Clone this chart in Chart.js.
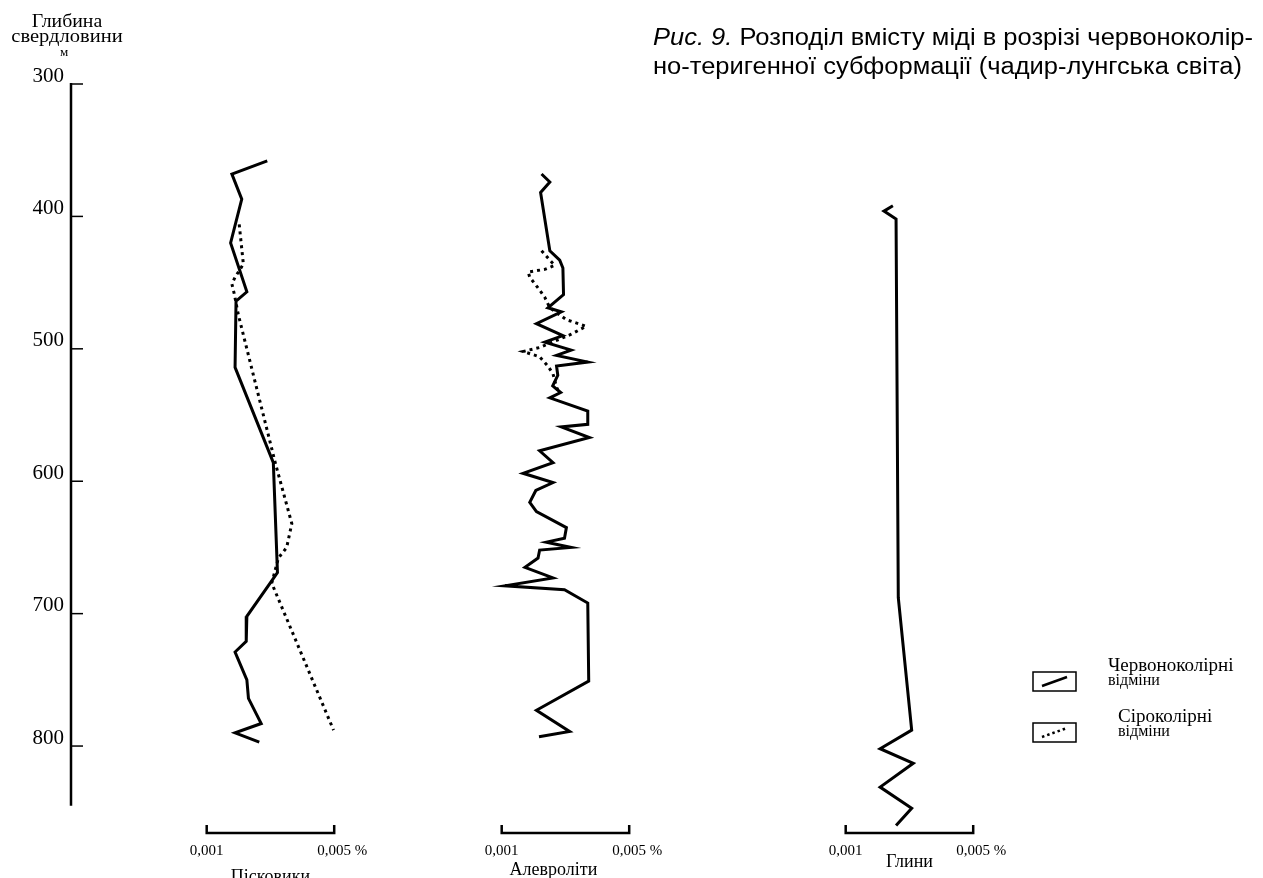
<!DOCTYPE html>
<html>
<head>
<meta charset="utf-8">
<script src="https://cdn.jsdelivr.net/npm/chart.js@4.4.1/dist/chart.umd.min.js"></script>
<style>
  body { margin: 0; background: #fff; }
  canvas { display: block; }
</style>
</head>
<body>
<canvas id="copperChart" width="1263" height="878"></canvas>
<script>
// depth ticks (m) and the short horizontal scale under each column (% Cu)
const depthTicks = [300, 400, 500, 600, 700, 800];
const axisEnd = 845;
const scaleValues = [0.001, 0.005];
const scaleLabels = ['0,001', '0,005 %'];
const panelNames = ['Пісковики', 'Алевроліти', 'Глини'];
const legendNames = [['Червоноколірні', 'відміни'], ['Сіроколірні', 'відміни']];

// [Cu %, depth m]
const sandRed = [[0.00290, 358], [0.00179, 368], [0.00210, 387], [0.00175, 420], [0.00226, 457],
  [0.00192, 464], [0.00189, 514], [0.00309, 586], [0.00322, 669], [0.00299, 677], [0.00226, 702],
  [0.00224, 721], [0.00189, 729], [0.00226, 750], [0.00231, 764], [0.00271, 783], [0.00189, 790],
  [0.00265, 797]];
const sandGrey = [[0.00202, 406], [0.00215, 436], [0.00189, 446], [0.00179, 451], [0.00187, 459],
  [0.00199, 474], [0.00315, 586], [0.00367, 632], [0.00351, 650], [0.00325, 658], [0.00304, 677],
  [0.00498, 788]];
const siltRed = [[0.00225, 368], [0.00251, 374], [0.00222, 382], [0.00251, 426], [0.00282, 433],
  [0.00292, 439], [0.00294, 459], [0.00245, 469], [0.00287, 472], [0.00209, 481], [0.00292, 490],
  [0.00235, 495], [0.00318, 501], [0.00272, 505], [0.00370, 510], [0.00272, 513], [0.00276, 520],
  [0.00260, 528], [0.00285, 533], [0.00251, 537], [0.00370, 547], [0.00370, 557], [0.00287, 559],
  [0.00375, 567], [0.00219, 577], [0.00261, 586], [0.00167, 594], [0.00261, 601], [0.00207, 607],
  [0.00188, 616], [0.00209, 623], [0.00303, 635], [0.00297, 643], [0.00240, 646], [0.00318, 650],
  [0.00219, 652], [0.00214, 658], [0.00173, 665], [0.00261, 673], [0.00110, 679], [0.00297, 682],
  [0.00370, 692], [0.00373, 751], [0.00209, 773], [0.00313, 789], [0.00217, 793]];
const siltGrey = [[0.00225, 426], [0.00266, 437], [0.00235, 440], [0.00183, 442], [0.00188, 446],
  [0.00214, 454], [0.00235, 461], [0.00251, 469], [0.00303, 478], [0.00365, 483], [0.00318, 489],
  [0.00219, 499], [0.00167, 502], [0.00219, 506], [0.00245, 513], [0.00261, 519], [0.00272, 529],
  [0.00282, 534]];
const clayRed = [[0.00248, 392], [0.00220, 396], [0.00258, 402], [0.00265, 688], [0.00307, 788],
  [0.00208, 802], [0.00312, 813], [0.00208, 831], [0.00307, 847], [0.00258, 860]];

// layout (pixels)
const plotLeft = 71, plotRight = 1253;
const panelLeft = [206.7, 501.7, 845.7];
const panelWidth = 127.5;
const serif = '"Liberation Serif", "Times New Roman", serif';
const sans = '"Liberation Sans", Arial, sans-serif';

function xScale(i) {
    const k = (scaleValues[1] - scaleValues[0]) / panelWidth;
    return {
        type: 'linear',
        display: false,
        min: scaleValues[0] - (panelLeft[i] - plotLeft) * k,
        max: scaleValues[1] + (plotRight - panelLeft[i] - panelWidth) * k
    };
}

function series(points, axis, dotted) {
    return {
        data: points.map(p => ({ x: p[0], y: p[1] })),
        xAxisID: axis,
        showLine: true,
        borderColor: '#000',
        borderWidth: 3,
        borderDash: dotted ? [3, 4] : [],
        borderJoinStyle: 'miter',
        pointRadius: 0,
        tension: 0,
        fill: false
    };
}

// text squeezed or stretched horizontally
function wideText(ctx, text, x, y, sx) {
    ctx.save();
    ctx.translate(x, y);
    ctx.scale(sx, 1);
    ctx.fillText(text, 0, 0);
    ctx.restore();
}

const decor = {
    id: 'decor',
    afterDraw(chart) {
        const ctx = chart.ctx;
        const y = chart.scales.y;
        const left = chart.chartArea.left;
        ctx.save();
        ctx.fillStyle = '#000';
        ctx.strokeStyle = '#000';

        // depth axis with ticks pointing right
        ctx.lineWidth = 2.5;
        ctx.beginPath();
        ctx.moveTo(left, y.getPixelForValue(depthTicks[0]) - 1);
        ctx.lineTo(left, y.getPixelForValue(axisEnd));
        ctx.stroke();
        ctx.lineWidth = 1.5;
        depthTicks.forEach(v => {
            const py = y.getPixelForValue(v);
            ctx.beginPath();
            ctx.moveTo(left, py);
            ctx.lineTo(left + 12, py);
            ctx.stroke();
        });

        // axis heading
        ctx.textAlign = 'center';
        ctx.textBaseline = 'middle';
        ctx.font = '18px ' + serif;
        wideText(ctx, 'Глибина', 67, 22, 1.1);
        wideText(ctx, 'свердловини', 67, 37, 1.14);
        ctx.font = '13px ' + serif;
        ctx.fillText('м', 64, 53);

        // scale bars under the columns
        const nameY = [877, 870, 862];
        panelNames.forEach((name, i) => {
            const sc = chart.scales['x' + (i + 1)];
            const x0 = sc.getPixelForValue(scaleValues[0]);
            const x1 = sc.getPixelForValue(scaleValues[1]);
            const yb = 833;
            ctx.lineWidth = 2.5;
            ctx.beginPath();
            ctx.moveTo(x0, yb - 8);
            ctx.lineTo(x0, yb);
            ctx.lineTo(x1, yb);
            ctx.lineTo(x1, yb - 8);
            ctx.stroke();
            ctx.font = '15px ' + serif;
            ctx.textAlign = 'center';
            ctx.fillText(scaleLabels[0], x0, 851);
            const w = ctx.measureText('0,005').width;
            ctx.textAlign = 'left';
            ctx.fillText(scaleLabels[1], x1 - w / 2, 851);
            ctx.font = '18px ' + serif;
            ctx.textAlign = 'center';
            ctx.fillText(name, (x0 + x1) / 2 - (i === 1 ? 12 : 0), nameY[i]);
        });

        // figure caption, fitted to the width of the printed one
        const line1a = 'Рис. 9. ';
        const line1b = 'Розподіл вмісту міді в розрізі червоноколір-';
        const line2 = 'но-теригенної субформації (чадир-лунгська світа)';
        ctx.textAlign = 'left';
        ctx.textBaseline = 'alphabetic';
        ctx.font = 'italic 23px ' + sans;
        const wa = ctx.measureText(line1a).width;
        ctx.font = '23px ' + sans;
        const wb = ctx.measureText(line1b).width;
        const sx = 600 / (wa + wb);
        ctx.save();
        ctx.translate(653, 0);
        ctx.scale(sx, 1);
        ctx.font = 'italic 23px ' + sans;
        ctx.fillText(line1a, 0, 45);
        ctx.font = '23px ' + sans;
        ctx.fillText(line1b, wa, 45);
        ctx.fillText(line2, 0, 74);
        ctx.restore();

        // legend
        ctx.textBaseline = 'middle';
        const boxTop = [672, 723];
        boxTop.forEach((t, i) => {
            ctx.lineWidth = 1.5;
            ctx.setLineDash([]);
            ctx.strokeRect(1033, t, 43, 19);
            ctx.lineWidth = 2.5;
            ctx.setLineDash(i === 1 ? [2.5, 3] : []);
            ctx.beginPath();
            ctx.moveTo(1042, t + 14);
            ctx.lineTo(1067, t + 5);
            ctx.stroke();
            ctx.setLineDash([]);
            const tx = i === 0 ? 1108 : 1118;
            ctx.textAlign = 'left';
            ctx.font = '19px ' + serif;
            ctx.fillText(legendNames[i][0], tx, t - 6);
            ctx.font = '16px ' + serif;
            ctx.fillText(legendNames[i][1], tx, t + 9);
        });
        ctx.restore();
    }
};

const ctx = document.getElementById('copperChart').getContext('2d');
new Chart(ctx, {
    type: 'scatter',
    data: {
        datasets: [
            series(sandRed, 'x1', false),
            series(sandGrey, 'x1', true),
            series(siltRed, 'x2', false),
            series(siltGrey, 'x2', true),
            series(clayRed, 'x3', false)
        ]
    },
    options: {
        responsive: false,
        animation: false,
        devicePixelRatio: 1,
        layout: { padding: { left: 0, right: 1263 - plotRight, top: 84, bottom: 30 } },
        plugins: { legend: { display: false }, tooltip: { enabled: false } },
        scales: {
            y: {
                type: 'linear',
                reverse: true,
                min: 300,
                max: 877,
                position: 'left',
                afterBuildTicks: s => { s.ticks = depthTicks.map(v => ({ value: v })); },
                afterFit: s => { s.width = plotLeft; },
                grid: { display: false, drawTicks: false },
                border: { display: false },
                ticks: { color: '#000', font: { family: serif, size: 21 }, padding: 7, labelOffset: -8 }
            },
            x1: xScale(0),
            x2: xScale(1),
            x3: xScale(2)
        }
    },
    plugins: [decor]
});
</script>
</body>
</html>
